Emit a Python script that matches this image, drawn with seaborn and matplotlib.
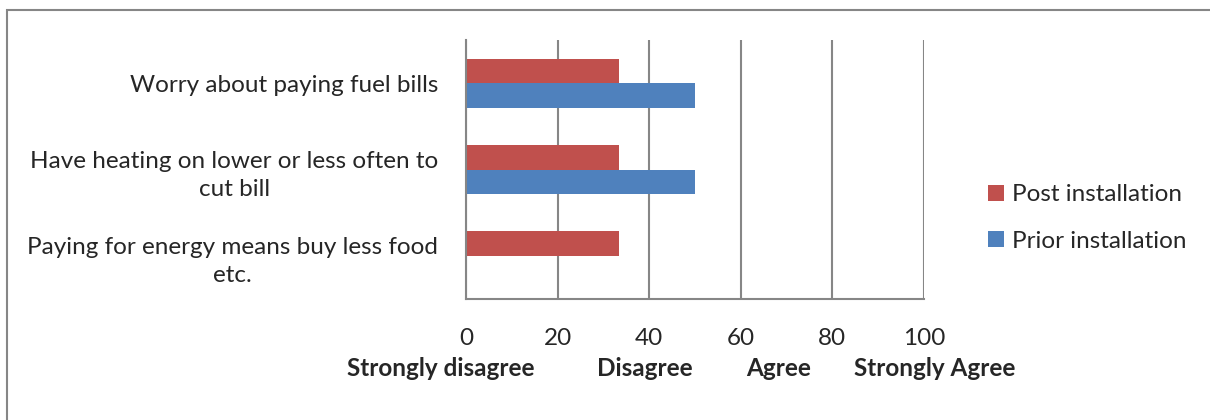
import matplotlib
matplotlib.use("Agg")
import matplotlib.pyplot as plt
import seaborn as sns
import pandas as pd
from matplotlib.patches import Rectangle, Patch

categories = [
    "Worry about paying fuel bills",
    "Have heating on lower or less often to\ncut bill",
    "Paying for energy means buy less food\netc.",
]
series_names = ["Post installation", "Prior installation"]
post_values = [33.3, 33.3, 33.3]
prior_values = [50.0, 50.0, 0.0]
x_ticks = [0, 20, 40, 60, 80, 100]
scale_labels = ["Strongly disagree", "Disagree", "Agree", "Strongly Agree"]
colors = ["#C0504D", "#4F81BD"]

df = pd.DataFrame({
    "category": categories * 2,
    "series": [series_names[0]] * 3 + [series_names[1]] * 3,
    "value": post_values + prior_values,
})

sns.set_theme(style="white")
plt.rcParams["font.family"] = ["Lato", "DejaVu Sans"]
FS = 17.5

fig = plt.figure(figsize=(12.1, 4.2), dpi=100)
ax = fig.add_axes([466 / 1210, 1 - 299 / 420, 458 / 1210, 259 / 420])

sns.barplot(data=df, y="category", x="value", hue="series", order=categories,
            hue_order=series_names, palette=colors, orient="h", width=0.565,
            gap=0, ax=ax, legend=False, saturation=1, edgecolor="none")

ax.set_xlim(0, 100)
ax.set_ylim(2.5, -0.5)
ax.set_xticks(x_ticks)
ax.set_xticklabels([str(t) for t in x_ticks], fontsize=FS)
ax.set_yticks([-0.5, 0.5, 1.5, 2.5])
ax.set_yticklabels([])
ax.set_yticks([0, 1, 2], minor=True)
ax.set_yticklabels(categories, minor=True, fontsize=FS, multialignment="center",
                   linespacing=1.45)
ax.tick_params(axis="y", which="minor", length=0, pad=20)
ax.tick_params(axis="y", which="major", length=6, width=1.5, color="#868686", direction="out")
ax.tick_params(axis="x", length=7, width=1.5, color="#868686", direction="out", pad=14)
ax.set_xlabel("")
ax.set_ylabel("")
ax.grid(axis="x", color="#868686", linewidth=1.5)
ax.grid(axis="y", visible=False)
ax.set_axisbelow(True)
for s in ["top", "right"]:
    ax.spines[s].set_visible(False)
for s in ["left", "bottom"]:
    ax.spines[s].set_color("#868686")
    ax.spines[s].set_linewidth(1.5)

scale_x = [441, 645, 779, 935]
for lab, xp in zip(scale_labels, scale_x):
    fig.text(xp / 1210, 1 - 369 / 420, lab, fontsize=FS, fontweight="bold",
             ha="center", va="center")

handles = [Patch(facecolor=c, edgecolor="none") for c in colors]
fig.legend(handles, series_names, loc="center left",
           bbox_to_anchor=(976 / 1210, 1 - 218 / 420), frameon=False,
           fontsize=FS, handlelength=0.65, handleheight=0.65, handletextpad=0.35,
           labelspacing=1.05, borderpad=0.0)

fig.patches.append(Rectangle((7 / 1210, -0.1), 1.2, 1 - 10 / 420 + 0.1,
                             transform=fig.transFigure, fill=False,
                             edgecolor="#868686", linewidth=1.5))

fig.savefig("out.png", dpi=100)
